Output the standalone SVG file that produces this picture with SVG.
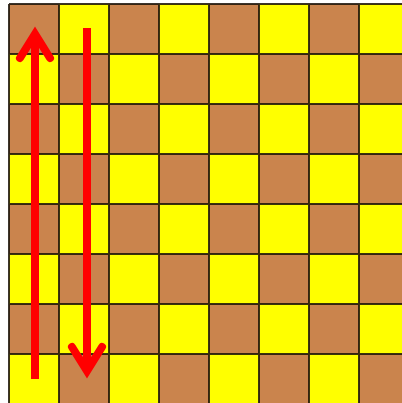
<svg xmlns="http://www.w3.org/2000/svg" width="402" height="403" viewBox="0 0 402 403">
<style>
.b{fill:#CA844D}
.grid{stroke:#1a1208;stroke-width:2;fill:none;stroke-opacity:0.85}
.arr{stroke:#FF0000;stroke-width:8;fill:none}
.head{stroke:#FF0000;stroke-width:8;fill:none;stroke-linecap:round;stroke-linejoin:miter}
</style>
<rect width="402" height="403" fill="#ffffff"/>
<g id="board">
<rect x="9" y="4" width="400" height="400" fill="#FFFF00"/>
<g id="r0"><rect class="b" x="9" y="4" width="50" height="50"/><rect class="b" x="109" y="4" width="50" height="50"/><rect class="b" x="209" y="4" width="50" height="50"/><rect class="b" x="309" y="4" width="50" height="50"/></g>
<g id="r1"><rect class="b" x="59" y="54" width="50" height="50"/><rect class="b" x="159" y="54" width="50" height="50"/><rect class="b" x="259" y="54" width="50" height="50"/><rect class="b" x="359" y="54" width="50" height="50"/></g>
<g id="r2"><rect class="b" x="9" y="104" width="50" height="50"/><rect class="b" x="109" y="104" width="50" height="50"/><rect class="b" x="209" y="104" width="50" height="50"/><rect class="b" x="309" y="104" width="50" height="50"/></g>
<g id="r3"><rect class="b" x="59" y="154" width="50" height="50"/><rect class="b" x="159" y="154" width="50" height="50"/><rect class="b" x="259" y="154" width="50" height="50"/><rect class="b" x="359" y="154" width="50" height="50"/></g>
<g id="r4"><rect class="b" x="9" y="204" width="50" height="50"/><rect class="b" x="109" y="204" width="50" height="50"/><rect class="b" x="209" y="204" width="50" height="50"/><rect class="b" x="309" y="204" width="50" height="50"/></g>
<g id="r5"><rect class="b" x="59" y="254" width="50" height="50"/><rect class="b" x="159" y="254" width="50" height="50"/><rect class="b" x="259" y="254" width="50" height="50"/><rect class="b" x="359" y="254" width="50" height="50"/></g>
<g id="r6"><rect class="b" x="9" y="304" width="50" height="50"/><rect class="b" x="109" y="304" width="50" height="50"/><rect class="b" x="209" y="304" width="50" height="50"/><rect class="b" x="309" y="304" width="50" height="50"/></g>
<g id="r7"><rect class="b" x="59" y="354" width="50" height="50"/><rect class="b" x="159" y="354" width="50" height="50"/><rect class="b" x="259" y="354" width="50" height="50"/><rect class="b" x="359" y="354" width="50" height="50"/></g>
<path class="grid" d="M9 4V403M59 4V403M109 4V403M159 4V403M209 4V403M259 4V403M309 4V403M359 4V403M9 4H402M9 54H402M9 104H402M9 154H402M9 204H402M9 254H402M9 304H402M9 354H402"/>
</g>
<g id="connectors">
<g id="arrow-up"><path class="arr" d="M35 379V38"/><path class="head" d="M20 58L35 34L50 58"/></g>
<g id="arrow-down"><path class="arr" d="M87 28V368"/><path class="head" d="M72 347L87 371L102 347"/></g>
</g>
</svg>
